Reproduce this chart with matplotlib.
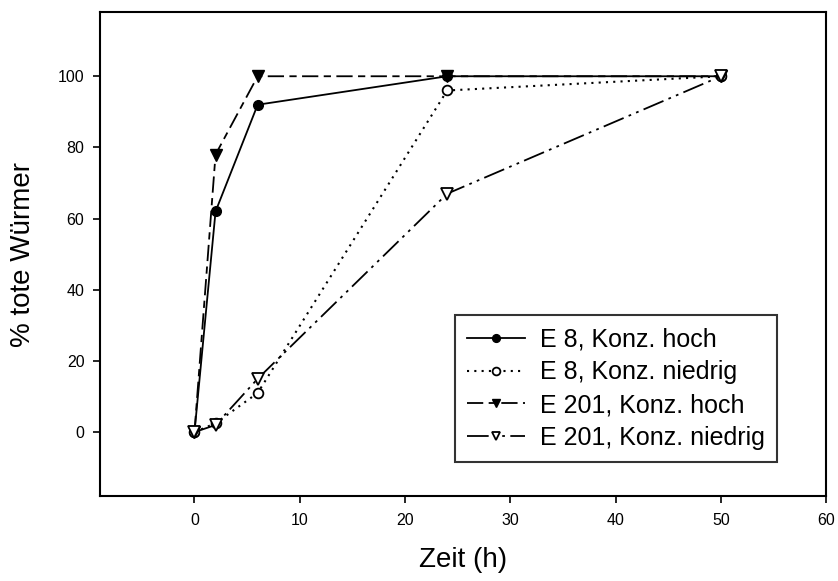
import matplotlib.pyplot as plt

plt.rcParams['font.family'] = ['Liberation Sans', 'DejaVu Sans']

zeit = [0, 2, 6, 24, 50]
e8_hoch = [0, 62, 92, 100, 100]
e8_niedrig = [0, 2.5, 11, 96, 100]
e201_hoch = [0, 78, 100, 100, 100]
e201_niedrig = [0, 2, 15, 67, 100]

fig = plt.figure(figsize=(8.38, 5.81), dpi=100)
ax = fig.add_axes([0.119, 0.146, 0.867, 0.833])

ax.plot(zeit, e8_hoch, color='k', lw=1.3, ls='-', marker='o', ms=7,
        mfc='k', mec='k', label='E 8, Konz. hoch')
ax.plot(zeit, e8_niedrig, color='k', lw=1.5, ls=(0, (1, 2.5)), marker='o', ms=7,
        mfc='white', mec='k', mew=1.3, label='E 8, Konz. niedrig')
ax.plot(zeit, e201_hoch, color='k', lw=1.3, ls=(0, (9, 3, 4, 3)), marker='v', ms=8,
        mfc='k', mec='k', label='E 201, Konz. hoch')
ax.plot(zeit, e201_niedrig, color='k', lw=1.3, ls=(0, (12, 3, 1.5, 3, 1.5, 3)),
        marker='v', ms=8, mfc='white', mec='k', mew=1.3, label='E 201, Konz. niedrig')

ax.set_xlim(-9, 60)
ax.set_ylim(-18, 118)
ax.set_xticks(range(0, 61, 10))
ax.set_yticks(range(0, 101, 20))
ax.tick_params(direction='out', length=5, width=1.2, labelsize=11.5)
ax.tick_params(axis='x', pad=7)
ax.tick_params(axis='y', pad=6)
for s in ax.spines.values():
    s.set_linewidth(1.5)

ax.set_xlabel('Zeit (h)', fontsize=20, labelpad=14)
ax.set_ylabel('% tote Würmer', fontsize=20, labelpad=16)

leg = ax.legend(loc='lower right', bbox_to_anchor=(0.9325, 0.07), fontsize=18,
                frameon=True, fancybox=False, edgecolor='k', handlelength=2.3,
                borderpad=0.5, borderaxespad=0, labelspacing=0.35,
                handletextpad=0.6, markerscale=0.8)
leg.get_frame().set_linewidth(1.5)

fig.savefig('out.png', dpi=100)
